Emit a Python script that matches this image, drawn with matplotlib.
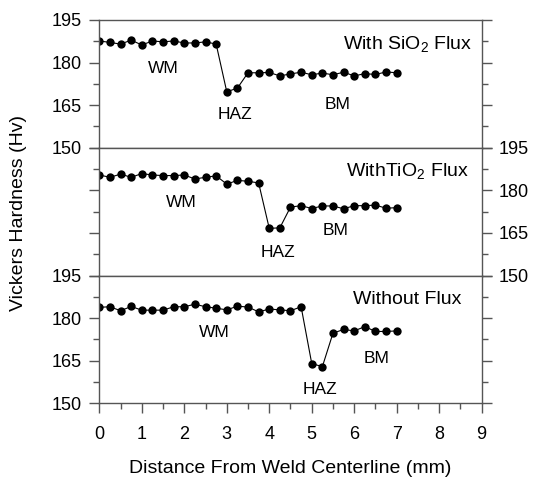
#!/usr/bin/env python3

import matplotlib.pyplot as plt
from matplotlib.ticker import MultipleLocator


DIST_SIO2 = [0.0, 0.25, 0.5, 0.75, 1.0, 1.25, 1.5, 1.75, 2.0, 2.25, 2.5, 2.75,
             3.0, 3.25, 3.5, 3.75, 4.0, 4.25, 4.5, 4.75, 5.0, 5.25, 5.5, 5.75,
             6.0, 6.25, 6.5, 6.75, 7.0]
HV_SIO2 = [187.6, 187.1, 186.5, 187.9, 186.2, 187.6, 187.3, 187.6, 186.9, 186.9,
           187.3, 186.5, 169.7, 171.0, 176.4, 176.4, 176.5, 175.3, 176.0, 176.6,
           175.7, 176.3, 175.7, 176.6, 175.3, 176.1, 175.8, 176.7, 176.4]

DIST_TIO2 = [0.0, 0.25, 0.5, 0.75, 1.0, 1.25, 1.5, 1.75, 2.0, 2.25, 2.5, 2.75,
             3.0, 3.25, 3.5, 3.75, 4.0, 4.25, 4.5, 4.75, 5.0, 5.25, 5.5, 5.75,
             6.0, 6.25, 6.5, 6.75, 7.0]
HV_TIO2 = [185.4, 184.6, 185.7, 184.6, 185.9, 185.4, 185.2, 185.2, 185.4, 184.0,
           184.6, 185.1, 182.2, 183.5, 183.2, 182.6, 166.6, 166.8, 174.1, 174.6,
           173.6, 174.5, 174.5, 173.5, 174.6, 174.6, 174.8, 173.7, 173.9]

DIST_NONE = [0.0, 0.25, 0.5, 0.75, 1.0, 1.25, 1.5, 1.75, 2.0, 2.25, 2.5, 2.75,
             3.0, 3.25, 3.5, 3.75, 4.0, 4.25, 4.5, 4.75, 5.0, 5.25, 5.5, 5.75,
             6.0, 6.25, 6.5, 6.75, 7.0]
HV_NONE = [183.8, 184.0, 182.6, 184.1, 182.8, 182.8, 182.8, 184.0, 184.0, 184.9,
           184.0, 183.5, 182.9, 184.2, 183.9, 182.2, 183.2, 182.9, 182.6, 184.0,
           164.0, 162.9, 174.7, 176.0, 175.5, 177.0, 175.3, 175.3, 175.5]

# (text, x, y) for the zone labels in each panel
PANELS = [
    ("With SiO$_\\mathregular{2}$ Flux", DIST_SIO2, HV_SIO2,
     [("WM", 1.5, 177.8), ("HAZ", 3.2, 161.8), ("BM", 5.6, 165.3)]),
    ("WithTiO$_\\mathregular{2}$ Flux", DIST_TIO2, HV_TIO2,
     [("WM", 1.94, 175.7), ("HAZ", 4.2, 158.0), ("BM", 5.55, 165.9)]),
    ("Without Flux", DIST_NONE, HV_NONE,
     [("WM", 2.7, 174.9), ("HAZ", 5.2, 155.0), ("BM", 6.53, 165.9)]),
]
TITLE_X = [8.77, 8.69, 8.53]

SPINE = "#555555"


def main():
    plt.rcParams["font.family"] = ["Liberation Sans", "DejaVu Sans"]
    plt.rcParams["font.size"] = 13

    fig = plt.figure(figsize=(5.34, 4.8), dpi=100)
    left, width = 0.186, 0.716
    bottom, height = 0.1598, 0.2662

    axes = []
    for index, (title, dist, hv, labels) in enumerate(PANELS):
        y0 = bottom + (2 - index) * height
        ax = fig.add_axes([left, y0, width, height])
        axes.append(ax)

        ax.plot(dist, hv, color="black", linewidth=0.8, marker="o",
                markersize=6, markeredgewidth=0)
        for text, x, y in labels:
            ax.text(x, y, text, ha="center", va="center", fontsize=12.5)
        ax.text(TITLE_X[index], 186.4, title, ha="right", va="center",
                fontsize=14)

        ax.set_xlim(0, 9)
        ax.set_ylim(150, 195)
        ax.yaxis.set_major_locator(MultipleLocator(15))
        ax.yaxis.set_minor_locator(MultipleLocator(7.5))
        ax.xaxis.set_major_locator(MultipleLocator(1))
        ax.xaxis.set_minor_locator(MultipleLocator(0.5))

        for spine in ax.spines.values():
            spine.set_color(SPINE)
            spine.set_linewidth(1.0)

        label_right = index == 1
        ax.tick_params(axis="y", which="both", direction="out", left=True,
                       right=True, labelleft=not label_right,
                       labelright=label_right, color=SPINE, width=1.0,
                       labelsize=13)
        ax.tick_params(axis="y", which="major", length=7.5, pad=5)
        ax.tick_params(axis="y", which="minor", length=4)

        last = index == 2
        ax.tick_params(axis="x", which="both", direction="out", bottom=last,
                       top=False, labelbottom=last, color=SPINE, width=1.0,
                       labelsize=13)
        ax.tick_params(axis="x", which="major", length=7.5, pad=9)
        ax.tick_params(axis="x", which="minor", length=4.5)

    axes[2].set_xlabel("Distance From Weld Centerline (mm)", fontsize=14,
                       labelpad=12)
    fig.text(0.034, 1 - 213 / 480, "Vickers Hardness (Hv)", rotation=90,
             ha="center", va="center", fontsize=14)

    fig.savefig("out.png", dpi=100)
    plt.close(fig)


if __name__ == "__main__":
    main()
